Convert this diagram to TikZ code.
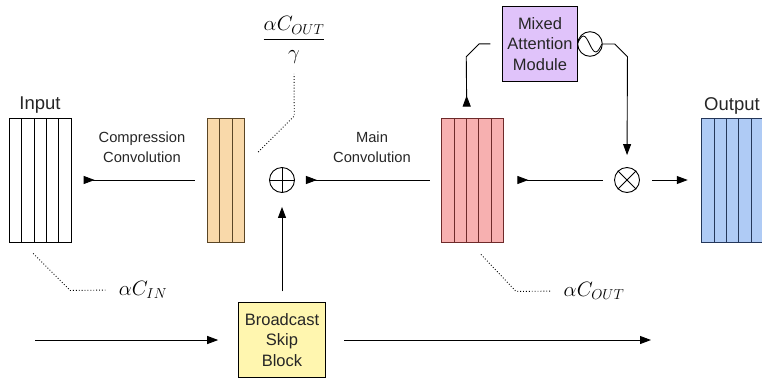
\documentclass[tikz,border=0pt]{standalone}
\usepackage{amsmath}
\usepackage{fontspec}
\setmainfont{Liberation Sans}
\usepackage{tikz}
\usetikzlibrary{arrows.meta}
\definecolor{fillcomp}{HTML}{F9D9AA}
\definecolor{fillmain}{HTML}{F7B0B0}
\definecolor{fillout}{HTML}{AFCBF5}
\definecolor{fillatt}{HTML}{E0C3FA}
\definecolor{fillskip}{HTML}{FFF6AF}
\definecolor{linecomp}{HTML}{5A4525}
\definecolor{linemain}{HTML}{6E2A2A}
\definecolor{lineout}{HTML}{24375A}
\tikzstyle{node:stack}=[draw, inner sep=0pt, minimum height=124pt, line width=0.9pt]
\tikzstyle{node:block}=[draw, inner sep=0pt, align=center, line width=0.9pt, text=black!85, font=\fontsize{16.5}{20.3}\selectfont]
\tikzstyle{node:op}=[circle, draw, inner sep=0pt, minimum size=25pt, line width=0.9pt]
\tikzstyle{node:title}=[text=black!85, font=\fontsize{18.5}{22}\selectfont]
\tikzstyle{node:label}=[align=center, text=black!85, font=\fontsize{14.7}{20}\selectfont]
\tikzstyle{node:math}=[font=\fontsize{20}{24}\selectfont]
\tikzstyle{draw:connection}=[-{Triangle[length=11pt, width=8pt]}, line width=0.9pt]
\tikzstyle{draw:tailstart}=[{Triangle[reversed, length=11pt, width=8pt]}-, line width=0.9pt]
\tikzstyle{draw:tailend}=[-{Triangle[reversed, length=11pt, width=8pt]}, line width=0.9pt]
\tikzstyle{draw:leader}=[dotted, line width=0.9pt]
\tikzstyle{draw:divider}=[line width=0.9pt]

\begin{document}
\begin{tikzpicture}[x=1pt, y=-1pt]
        \useasboundingbox (0,0) rectangle (762,378);

        % Feature stacks
        \node[node:stack, minimum width=62pt] (input) at (40.2,180) {};
        \node[node:stack, minimum width=37pt, fill=fillcomp, draw=linecomp] (comp) at (225.8,180) {};
        \node[node:stack, minimum width=62pt, fill=fillmain, draw=linemain] (main) at (472.5,180) {};
        \node[node:stack, minimum width=62pt, fill=fillout, draw=lineout] (output) at (732.7,180) {};

        % Channel dividers
        \draw[draw:divider] (21.6,118) -- (21.6,242) (34,118) -- (34,242) (46.4,118) -- (46.4,242) (58.8,118) -- (58.8,242);
        \draw[draw:divider, linecomp] (219.6,118) -- (219.6,242) (232,118) -- (232,242);
        \draw[draw:divider, linemain] (454.1,118) -- (454.1,242) (466.5,118) -- (466.5,242) (478.8,118) -- (478.8,242) (491.2,118) -- (491.2,242);
        \draw[draw:divider, lineout] (714.1,118) -- (714.1,242) (726.5,118) -- (726.5,242) (738.9,118) -- (738.9,242) (751.3,118) -- (751.3,242);

        % Operations
        \node[node:op] (oplus) at (282,180) {};
        \node[node:op] (otimes) at (627,180) {};
        \node[node:op, minimum size=24.6pt] (sine) at (590,44) {};
        \draw[line width=0.9pt] (oplus.north) -- (oplus.south) (oplus.west) -- (oplus.east);
        \draw[line width=0.9pt] (otimes.north west) -- (otimes.south east) (otimes.north east) -- (otimes.south west);
        \draw[line width=0.8pt] (sine.west) sin ++(6.15,-8) cos ++(6.15,8) sin ++(6.15,8) cos ++(6.15,-8);

        % Blocks
        \node[node:block, fill=fillatt, minimum width=74.6pt, minimum height=74.3pt] (att) at (540,43.8) {Mixed\\Attention\\Module};
        \node[node:block, fill=fillskip, minimum width=87.7pt, minimum height=74.6pt] (skip) at (282,340) {Broadcast\\Skip\\Block};
        \coordinate (skipin) at (35,340);
        \coordinate (skipout) at (651,340);

        % Main path
        \draw[draw:tailstart, shorten <=12pt, shorten >=12pt] (input) -- (comp);
        \draw[draw:tailstart, shorten <=11pt, shorten >=11.5pt] (oplus) -- (main);
        \draw[draw:tailstart, shorten <=13.4pt, shorten >=11.5pt] (main) -- (otimes);
        \draw[draw:connection, shorten <=12.5pt, shorten >=13.5pt] (otimes) -- (output);

        % Attention branch
        \draw[draw:tailend] ([xshift=-12pt]att.west) -- ++(-11,0) -- ++(-13,13) -- ([xshift=-5.8pt, yshift=11pt]main.north);
        \draw[draw:connection, shorten >=12pt] (sine.east) -- ++(12,0) -- ++(12.7,12.7) -- (otimes.north);

        % Skip branch
        \draw[draw:connection, shorten >=19.5pt] (skipin) -- (skip);
        \draw[draw:connection, shorten <=18pt] (skip) -- (skipout);
        \draw[draw:connection, shorten <=11pt, shorten >=14pt] (skip) -- (oplus);

        % Labels
        \node[node:title] (inputlabel) at (40,105) {Input};
        \node[node:title] (outputlabel) at (732,106) {Output};
        \node[node:label] (complabel) at (142,147.5) {Compression\\Convolution};
        \node[node:label] (mainlabel) at (372,147) {Main\\Convolution};

        % Channel counts
        \node[node:math] (cinlabel) at (143,290) {$\alpha C_{IN}$};
        \node[node:math] (coutlabel) at (594,291) {$\alpha C_{OUT}$};
        \node[node:math] (fraclabel) at (294,40) {$\dfrac{\alpha C_{OUT}\rule[-5pt]{0pt}{5pt}}{\gamma}$};
        \draw[draw:leader, shorten >=10pt] ([xshift=-7pt, yshift=-11pt]input.south) -- ++(37,37) -- (cinlabel.west);
        \draw[draw:leader, shorten >=10pt] ([xshift=8.5pt, yshift=-12pt]main.south) -- ++(35,37) -- (coutlabel.west);
        \draw[draw:leader, shorten >=7pt] ([xshift=13.5pt, yshift=28pt]comp.east) -- ++(36,-36) -- (fraclabel.south);

    \end{tikzpicture}
\end{document}
